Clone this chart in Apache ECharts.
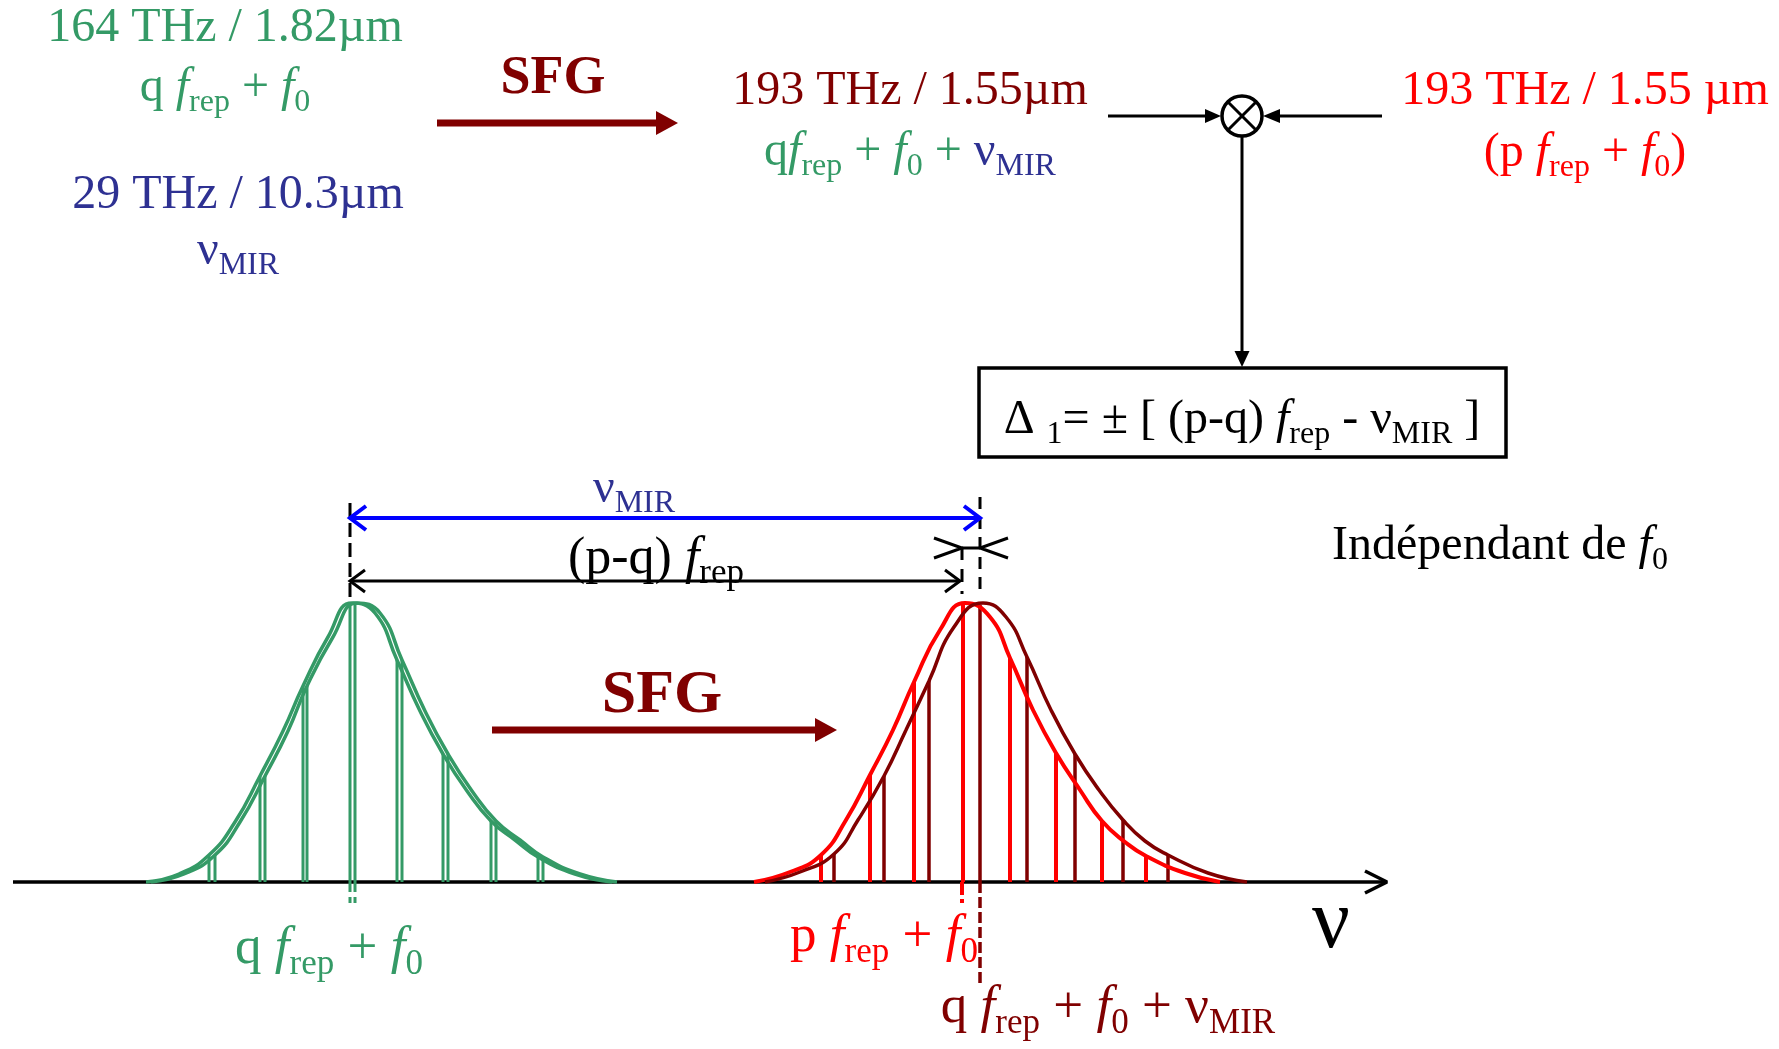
<!DOCTYPE html>
<html>
<head>
<meta charset="utf-8">
<script src="https://cdn.jsdelivr.net/npm/echarts@6/dist/echarts.min.js"></script>
<style>
html,body{margin:0;padding:0;background:#fff;}
#c{width:1779px;height:1049px;}
</style>
</head>
<body>
<div id="c"></div>
<script>
// ---- Spectra: comb line positions (frequency, arb.) and amplitudes ----
const greenCombX  = [209, 260, 303, 350, 397, 443, 491, 538];
const greenComb2X = [215, 265, 307, 355, 402, 448, 496, 543];
const greenCombA  = [27, 106, 196, 277, 222, 128, 61, 25];
const redCombX    = [821, 870, 914, 963, 1010, 1056, 1102, 1146];
const redCombA    = [27, 107, 200, 277, 224, 129, 61, 26];
const sfgCombX    = [834, 884, 929, 980, 1027, 1075, 1123, 1168];
const sfgCombA    = [28, 106, 201, 277, 225, 128, 62, 27];

// ---- Spectral envelopes [frequency, amplitude] ----
const greenEnvA = [[146,0],[179,8],[209,27],[235,60],[260,106],[283,151],[303,196],[328,245],[352,279],[375,269],[397,222],[420,171],[443,128],[467,91],[491,61],[515,42],[538,25],[575,8],[612,0]];
const greenEnvB = [[151,0],[184,8],[215,27],[240,60],[265,106],[288,151],[307,196],[333,245],[357,279],[380,269],[402,222],[425,171],[448,128],[472,91],[496,61],[520,42],[543,25],[580,8],[617,0]];
const redEnv    = [[754,0],[790,10],[821,27],[846,62],[870,107],[893,152],[914,200],[940,252],[965,279],[990,265],[1010,224],[1033,172],[1056,129],[1080,92],[1102,61],[1125,40],[1146,26],[1185,9],[1220,0]];
const sfgEnv    = [[765,0],[800,10],[834,28],[858,62],[884,106],[906,152],[929,201],[954,255],[983,279],[1006,265],[1027,225],[1051,172],[1075,128],[1099,92],[1123,62],[1145,41],[1168,27],[1208,9],[1247,0]];

// ---- Reference lines: q f_rep + f0, p f_rep + f0, q f_rep + f0 + nu_MIR ----
const qLine = 350, pLine = 962, sfgLine = 980;
// frequency axis extent
const axisRange = [13, 1387];

const G = '#349a66', DB = '#2e3192', DR = '#800000', R = '#ff0000', K = '#000000', BL = '#0000ff';
const SERIF = '"Liberation Serif","Times New Roman",serif';

const chart = echarts.init(document.getElementById('c'), null, {renderer: 'canvas'});

function combSeries(xs, amps, color, width) {
  return {
    type: 'custom', coordinateSystem: 'cartesian2d', silent: true, z: 3,
    data: xs.map((x, i) => [x, amps[i]]),
    renderItem(params, api) {
      const p0 = api.coord([api.value(0), 0]);
      const p1 = api.coord([api.value(0), api.value(1)]);
      return {type: 'line', shape: {x1: p0[0], y1: p0[1], x2: p1[0], y2: p1[1]},
              style: {stroke: color, lineWidth: width}};
    }
  };
}
function envSeries(data, color, width) {
  return {type: 'line', data, smooth: 0.5, showSymbol: false, silent: true, z: 4,
          lineStyle: {color, width}};
}

chart.setOption({
  animation: false,
  backgroundColor: '#ffffff',
  grid: {left: 0, right: 0, top: 0, bottom: 0},
  xAxis: {type: 'value', min: 0, max: 1779, show: false},
  yAxis: {type: 'value', min: -167, max: 882, show: false},
  series: [
    // frequency axis with arrow
    {type: 'line', data: [[axisRange[0], 0], [axisRange[1], 0]], showSymbol: false, silent: true, z: 2,
     lineStyle: {color: K, width: 3.5}},
    {type: 'line', data: [[axisRange[1] - 22, 11], [axisRange[1], 0], [axisRange[1] - 22, -11]], showSymbol: false, silent: true, z: 2,
     lineStyle: {color: K, width: 3.5}},
    envSeries(greenEnvA, G, 3.5),
    envSeries(greenEnvB, G, 3.5),
    combSeries(greenCombX, greenCombA, G, 3),
    combSeries(greenComb2X, greenCombA, G, 3),
    envSeries(redEnv, R, 4),
    combSeries(redCombX, redCombA, R, 4),
    envSeries(sfgEnv, DR, 3.5),
    combSeries(sfgCombX, sfgCombA, DR, 3.5)
  ]
});

// ---- text helper: parts = [string, 'n' | 'i' | 's', colour] ----
function richText(x, baseline, parts, opt) {
  opt = opt || {};
  const F = opt.size || 48;
  const L = Math.round(F * 1.25);
  const subH = Math.round(F * 0.646);
  const rich = {};
  let text = '';
  parts.forEach((p, i) => {
    const key = 'k' + i;
    const st = {fontFamily: SERIF, fill: p[2], fontWeight: opt.bold ? 'bold' : 'normal'};
    if (p[1] === 's') {
      st.fontSize = Math.round(F * 0.667); st.lineHeight = subH; st.verticalAlign = 'bottom';
    } else {
      st.fontSize = F; st.lineHeight = L; st.verticalAlign = 'middle';
      if (p[1] === 'i') st.fontStyle = 'italic';
    }
    rich[key] = st;
    text += '{' + key + '|' + p[0] + '}';
  });
  return {type: 'text', x: x, y: baseline + 0.32 * F, silent: true, z: 10,
          style: {text, rich, align: opt.align || 'center', verticalAlign: 'bottom'}};
}

const P = (x, a) => chart.convertToPixel({gridIndex: 0}, [x, a]);
function seg(x1, a1, x2, a2, color, w, dash) {
  const p = P(x1, a1), q = P(x2, a2);
  return {type: 'line', silent: true, z: 5,
          shape: {x1: p[0], y1: p[1], x2: q[0], y2: q[1]},
          style: {stroke: color, lineWidth: w, lineDash: dash || null}};
}
function openHead(x, a, dir, len, half, color, w) {
  const t = P(x, a);
  return {type: 'polyline', silent: true, z: 5,
          shape: {points: [[t[0] - dir * len, t[1] - half], [t[0], t[1]], [t[0] - dir * len, t[1] + half]]},
          style: {stroke: color, lineWidth: w, fill: null}};
}
function px(x1, y1, x2, y2, color, w) {
  return {type: 'line', silent: true, z: 5, shape: {x1, y1, x2, y2}, style: {stroke: color, lineWidth: w}};
}
function tri(points, color) {
  return {type: 'polygon', silent: true, z: 5, shape: {points}, style: {fill: color}};
}

const mx = 1242, my = 116, mr = 20;
const d = mr * 0.70;

const graphic = [
  // upper-left: sources
  richText(225, 43, [['164 THz / 1.82µm', 'n', G]]),
  richText(225, 103, [['q ', 'n', G], ['f', 'i', G], ['rep', 's', G], [' + ', 'n', G], ['f', 'i', G], ['0', 's', G]]),
  richText(238, 210, [['29 THz / 10.3µm', 'n', DB]]),
  richText(238, 266, [['ν', 'n', DB], ['MIR', 's', DB]]),
  // SFG stage
  richText(553, 96, [['SFG', 'n', DR]], {size: 54, bold: true}),
  px(437, 123, 658, 123, DR, 7),
  tri([[656, 111], [678, 123], [656, 135]], DR),
  richText(910, 106, [['193 THz / 1.55µm', 'n', DR]]),
  richText(910, 167, [['q', 'n', G], ['f', 'i', G], ['rep', 's', G], [' + ', 'n', G], ['f', 'i', G], ['0', 's', G],
                      [' + ', 'n', G], ['ν', 'n', DB], ['MIR', 's', DB]]),
  richText(1585, 106, [['193 THz / 1.55 µm', 'n', R]]),
  richText(1585, 168, [['(p ', 'n', R], ['f', 'i', R], ['rep', 's', R], [' + ', 'n', R], ['f', 'i', R], ['0', 's', R], [')', 'n', R]]),
  // mixer
  px(1108, my, 1209, my, K, 3),
  tri([[1205, my - 7], [mx - mr - 1, my], [1205, my + 7]], K),
  px(1382, my, 1275, my, K, 3),
  tri([[1280, my - 7], [mx + mr + 1, my], [1280, my + 7]], K),
  {type: 'circle', silent: true, z: 5, shape: {cx: mx, cy: my, r: mr}, style: {fill: '#fff', stroke: K, lineWidth: 3.5}},
  px(mx - d, my - d, mx + d, my + d, K, 3),
  px(mx - d, my + d, mx + d, my - d, K, 3),
  px(mx, my + mr, mx, 354, K, 3),
  tri([[mx - 7.5, 351], [mx + 7.5, 351], [mx, 367]], K),
  // beat-note box
  {type: 'rect', silent: true, z: 5, shape: {x: 979, y: 368, width: 527, height: 89},
   style: {fill: 'rgba(0,0,0,0)', stroke: K, lineWidth: 3.5}},
  richText(1242, 435, [['Δ ', 'n', K], ['1', 's', K], ['= ± [ (p-q) ', 'n', K], ['f', 'i', K], ['rep', 's', K],
                       [' - ν', 'n', K], ['MIR', 's', K], [' ]', 'n', K]]),
  richText(1500, 561, [['Indépendant de ', 'n', K], ['f', 'i', K], ['0', 's', K]], {size: 48}),

  // spectra annotations
  seg(qLine, 379, qLine, 279, K, 3, [14, 6]),
  seg(sfgLine, 385, sfgLine, 288, K, 3, [12, 8]),
  seg(pLine, 335, pLine, 288, K, 3, [13, 9]),
  seg(qLine, 364, sfgLine, 364, BL, 4),
  openHead(qLine, 364, -1, 16, 12, BL, 4),
  openHead(sfgLine, 364, 1, 16, 12, BL, 4),
  seg(qLine, 301, pLine - 2, 301, K, 3),
  openHead(qLine, 301, -1, 15, 11, K, 3),
  openHead(pLine - 2, 301, 1, 15, 11, K, 3),
  seg(pLine, 334, sfgLine, 334, K, 3),
  openHead(pLine, 334, 1, 28, 10, K, 3),
  openHead(sfgLine, 334, -1, 28, 10, K, 3),
  richText(634, 504, [['ν', 'n', DB], ['MIR', 's', DB]]),
  richText(656, 575, [['(p-q) ', 'n', K], ['f', 'i', K], ['rep', 's', K]], {size: 52}),

  // markers below the axis
  seg(greenCombX[3], 0, greenCombX[3], -21, G, 3, [10, 5]),
  seg(greenComb2X[3], 0, greenComb2X[3], -21, G, 3, [10, 5]),
  seg(pLine, 0, pLine, -21, R, 4, [13, 4]),
  seg(sfgLine, 0, sfgLine, -101, DR, 3.5, [11, 4]),

  // second SFG arrow
  richText(662, 715, [['SFG', 'n', DR]], {size: 62, bold: true}),
  px(492, 730, 817, 730, DR, 7),
  tri([[815, 718], [837, 730], [815, 742]], DR),

  // labels under the axis
  richText(329, 965, [['q ', 'n', G], ['f', 'i', G], ['rep', 's', G], [' + ', 'n', G], ['f', 'i', G], ['0', 's', G]], {size: 53}),
  richText(884, 953, [['p ', 'n', R], ['f', 'i', R], ['rep', 's', R], [' + ', 'n', R], ['f', 'i', R], ['0', 's', R]], {size: 53}),
  richText(1108, 1024, [['q ', 'n', DR], ['f', 'i', DR], ['rep', 's', DR], [' + ', 'n', DR], ['f', 'i', DR], ['0', 's', DR],
                        [' + ν', 'n', DR], ['MIR', 's', DR]], {size: 53}),
  richText(1331, 951, [['ν', 'n', K]], {size: 84})
];

chart.setOption({graphic: graphic});
</script>
</body>
</html>
